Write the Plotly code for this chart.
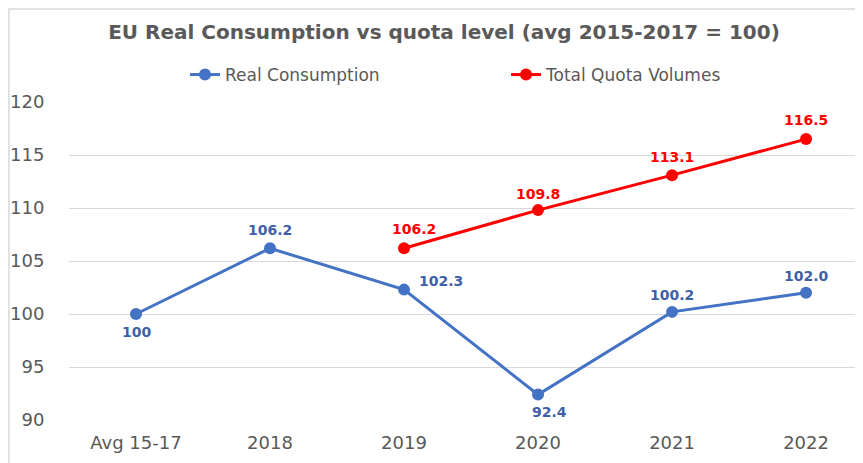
import plotly.graph_objects as go

categories = ["Avg 15-17", "2018", "2019", "2020", "2021", "2022"]
real_consumption = [100, 106.2, 102.3, 92.4, 100.2, 102.0]
real_labels = ["100", "106.2", "102.3", "92.4", "100.2", "102.0"]
quota_categories = ["2019", "2020", "2021", "2022"]
quota_volumes = [106.2, 109.8, 113.1, 116.5]
quota_labels = ["106.2", "109.8", "113.1", "116.5"]
y_ticks = [90, 95, 100, 105, 110, 115, 120]

BLUE = "#4472C4"
RED = "#FF0000"
GRAY = "#595959"
FONT = "DejaVu Sans"

fig = go.Figure()
fig.add_trace(go.Scatter(x=categories, y=real_consumption, mode="lines+markers",
                         name="Real Consumption",
                         line=dict(color=BLUE, width=3), marker=dict(size=12, color=BLUE)))
fig.add_trace(go.Scatter(x=quota_categories, y=quota_volumes, mode="lines+markers",
                         name="Total Quota Volumes",
                         line=dict(color=RED, width=3), marker=dict(size=12, color=RED)))

real_shift = [(0, -18), (0, 18), (37, 9), (11, -17), (0, 17), (0, 17)]
for c, v, t, (dx, dy) in zip(categories, real_consumption, real_labels, real_shift):
    fig.add_annotation(x=categories.index(c), y=v, text="<b>%s</b>" % t, showarrow=False,
                       xshift=dx, yshift=dy,
                       font=dict(family=FONT, size=14, color="#3F5FA8"))
quota_shift = [(10, 19), (0, 16), (0, 18), (0, 19)]
for c, v, t, (dx, dy) in zip(quota_categories, quota_volumes, quota_labels, quota_shift):
    fig.add_annotation(x=categories.index(c), y=v, text="<b>%s</b>" % t, showarrow=False,
                       xshift=dx, yshift=dy,
                       font=dict(family=FONT, size=14, color=RED))

fig.add_shape(type="rect", xref="paper", yref="paper", x0=-0.0756, x1=1.5, y0=-0.6, y1=1.2925,
              line=dict(color="#D9D9D9", width=1.5), fillcolor="rgba(0,0,0,0)", layer="below")

W, H = 855, 455
fig.update_layout(
    width=W, height=H,
    margin=dict(l=61, r=0, t=94, b=43),
    paper_bgcolor="white", plot_bgcolor="white",
    title=dict(text="<b>EU Real Consumption vs quota level (avg 2015-2017 = 100)</b>",
               x=436 / W, xanchor="center", y=1 - 24 / H, yanchor="middle",
               font=dict(family=FONT, size=20, color=GRAY)),
    legend=dict(orientation="h", x=116 / 794, xanchor="left", y=1 + 27 / 318, yanchor="middle",
                font=dict(family=FONT, size=17, color=GRAY),
                entrywidth=276, entrywidthmode="pixels", bgcolor="rgba(0,0,0,0)"),
    xaxis=dict(type="category", categoryarray=categories, range=[-0.5, 5.425],
               showgrid=False, showline=False, ticks="outside", ticklen=6,
               tickcolor="rgba(0,0,0,0)",
               tickfont=dict(family=FONT, size=18, color=GRAY)),
    yaxis=dict(range=[90, 120], tickvals=y_ticks, showgrid=True, gridcolor="#D9D9D9", gridwidth=1,
               zeroline=False, showline=False, ticks="outside", ticklen=20,
               tickcolor="rgba(0,0,0,0)",
               tickfont=dict(family=FONT, size=18, color=GRAY)),
    showlegend=True,
)
fig.write_html("out.html")
